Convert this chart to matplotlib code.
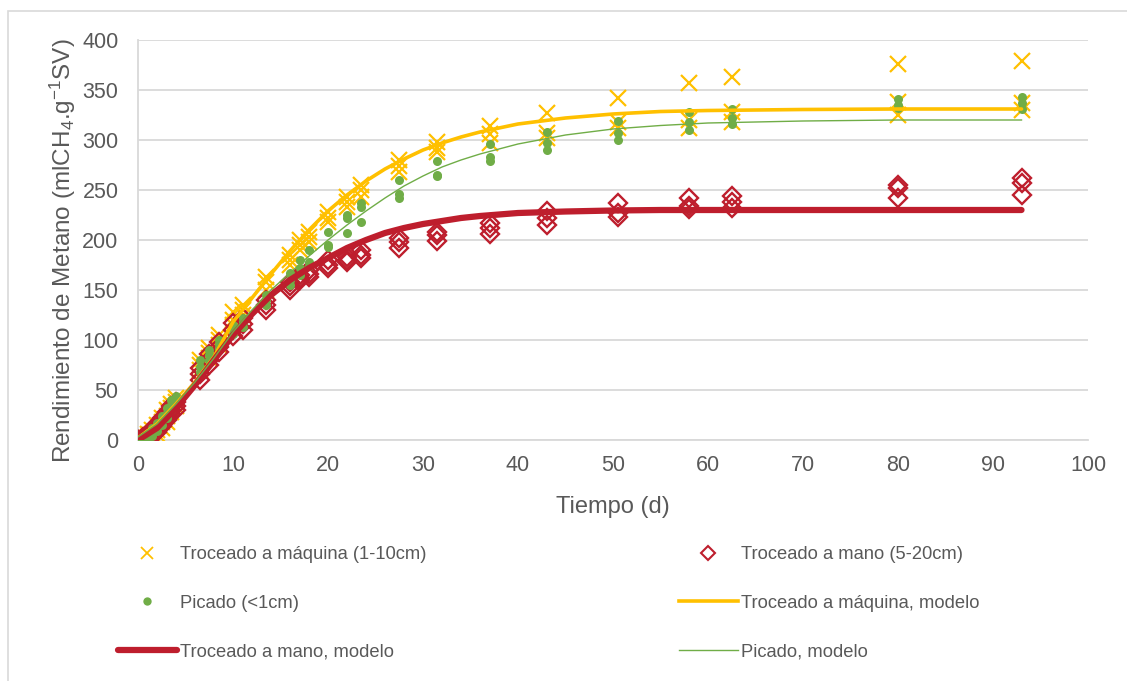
import matplotlib
matplotlib.use("Agg")
import matplotlib.pyplot as plt
from matplotlib.lines import Line2D
from matplotlib.patches import Rectangle

plt.rcParams['font.family'] = ['Liberation Sans', 'DejaVu Sans']
plt.rcParams['mathtext.fontset'] = 'custom'
plt.rcParams['mathtext.rm'] = 'Liberation Sans'
plt.rcParams['mathtext.it'] = 'Liberation Sans'

# ---- data ----
dias = [0, 0.5, 1, 1.5, 2, 2.5, 3, 3.5, 4, 6.5, 7.5, 8.5, 10, 11, 13.5, 16, 17, 18,
        20, 22, 23.5, 27.5, 31.5, 37, 43, 50.5, 58, 62.5, 80, 93]

maquina_r1 = [0, 3, 6, 10, 15, 22, 30, 36, 42, 80, 92, 105, 128, 135, 163, 185, 200, 208,
              228, 243, 255, 280, 298, 314, 327, 342, 357, 363, 376, 379]
maquina_r2 = [0, 1, 3, 6, 10, 18, 24, 32, 38, 75, 87, 100, 120, 130, 158, 180, 195, 203,
              222, 238, 250, 274, 292, 306, 307, 318, 320, 328, 338, 337]
maquina_r3 = [0, 0, 1, 3, 6, 12, 18, 28, 34, 70, 82, 95, 115, 125, 150, 175, 190, 198,
              218, 233, 243, 268, 288, 297, 302, 312, 312, 318, 325, 330]

mano_r1 = [0, 3, 6, 11, 16, 22, 28, 34, 38, 72, 86, 98, 117, 122, 140, 158, 165, 170,
           180, 183, 190, 202, 208, 217, 229, 237, 242, 244, 255, 262]
mano_r2 = [0, 1, 3, 8, 12, 18, 24, 30, 34, 66, 80, 93, 110, 116, 135, 154, 162, 166,
           175, 180, 185, 198, 205, 212, 222, 227, 234, 238, 252, 257]
mano_r3 = [0, 0, 1, 4, 8, 14, 20, 26, 30, 60, 75, 88, 104, 110, 130, 150, 160, 163,
           172, 178, 182, 192, 199, 206, 215, 223, 231, 232, 242, 245]

picado_r1 = [0, 3, 7, 12, 17, 24, 32, 40, 44, 80, 90, 100, 115, 122, 145, 167, 180, 190,
             208, 225, 237, 260, 279, 296, 308, 319, 328, 331, 341, 343]
picado_r2 = [0, 2, 4, 8, 13, 20, 27, 35, 40, 73, 85, 96, 110, 118, 140, 160, 172, 178,
             195, 222, 233, 246, 265, 283, 297, 307, 318, 322, 335, 337]
picado_r3 = [0, 1, 2, 4, 9, 15, 22, 30, 36, 68, 80, 92, 106, 113, 135, 155, 165, 174,
             193, 207, 218, 242, 264, 279, 290, 300, 310, 316, 332, 331]

dias_modelo = [0, 2, 4, 6, 8, 10, 12, 14, 16, 18, 20, 22, 24, 26, 28, 30, 32, 34, 36, 40,
               45, 50, 55, 60, 70, 80, 93]
modelo_maquina = [2, 16, 36, 58, 83, 118, 142, 166, 189, 210, 229, 245, 259, 271, 281,
                  290, 297, 303, 308, 316, 322, 326, 328.5, 329.5, 330.5, 331, 331]
modelo_mano = [0, 12, 32, 55, 80, 105, 126, 145, 160, 172, 182, 192, 200, 207, 212,
               216, 219, 222, 224, 227, 228.5, 229.5, 230, 230, 230, 230, 230]
modelo_picado = [3, 16, 36, 58, 82, 108, 130, 150, 167, 184, 200, 215, 229, 242, 254,
                 264, 273, 280, 286, 296, 305, 311, 314.5, 317, 319, 320, 320]

# ---- style ----
c_maq = '#FFC000'
c_mano = '#BE1E2D'
c_pic = '#70AD47'
c_txt = '#595959'
c_grid = '#D9D9D9'

fig = plt.figure(figsize=(11.27, 6.81), dpi=100)
ax = fig.add_axes([138/1127, 1-440/681, (1088-138)/1127, 400/681])

for r in (maquina_r1, maquina_r2, maquina_r3):
    ax.plot(dias, r, linestyle='none', marker='x', ms=11, mew=1.6, color=c_maq, zorder=3)
for r in (mano_r1, mano_r2, mano_r3):
    ax.plot(dias, r, linestyle='none', marker='D', ms=9, mew=1.7, mfc='none', mec=c_mano, zorder=3)
for r in (picado_r1, picado_r2, picado_r3):
    ax.plot(dias, r, linestyle='none', marker='o', ms=6.5, mew=0, color=c_pic, zorder=3)

ax.plot(dias_modelo, modelo_maquina, color=c_maq, lw=2.6, zorder=4, solid_capstyle='round')
ax.plot(dias_modelo, modelo_mano, color=c_mano, lw=4.5, zorder=5, solid_capstyle='round')
ax.plot(dias_modelo, modelo_picado, color=c_pic, lw=1.0, zorder=6)

ax.set_xlim(0, 100)
ax.set_ylim(0, 400)
ax.set_xticks(range(0, 101, 10))
ax.set_yticks(range(0, 401, 50))
ax.yaxis.grid(True, color=c_grid, lw=1.3)
ax.set_axisbelow(True)
for s in ('top', 'right'):
    ax.spines[s].set_visible(False)
for s in ('left', 'bottom'):
    ax.spines[s].set_color(c_grid)
    ax.spines[s].set_linewidth(1.3)
ax.tick_params(axis='y', length=0, labelsize=15.5, labelcolor=c_txt, pad=14)
ax.tick_params(axis='x', length=0, labelsize=15.5, labelcolor=c_txt, pad=11)
ax.set_xlabel('Tiempo (d)', fontsize=17, color=c_txt, labelpad=14)
ax.set_ylabel(r'Rendimiento de Metano (mlCH$_\mathregular{4}$.g$^\mathregular{-1}$SV)',
              fontsize=17.5, color=c_txt)
ax.yaxis.set_label_coords(-60/950, (440-251)/400)

h_col1 = [
    Line2D([], [], linestyle='none', marker='x', ms=8, mew=1.3, color=c_maq),
    Line2D([], [], linestyle='none', marker='o', ms=6, mew=0, color=c_pic),
    Line2D([], [], color=c_mano, lw=4.5, solid_capstyle='round'),
]
l_col1 = ['Troceado a máquina (1-10cm)', 'Picado (<1cm)', 'Troceado a mano, modelo']
h_col2 = [
    Line2D([], [], linestyle='none', marker='D', ms=7, mew=1.5, mfc='none', mec=c_mano),
    Line2D([], [], color=c_maq, lw=2.6),
    Line2D([], [], color=c_pic, lw=1.0),
]
l_col2 = ['Troceado a mano (5-20cm)', 'Troceado a máquina, modelo', 'Picado, modelo']

leg_kw = dict(loc='upper left', frameon=False, prop={'size': 13.2},
              handlelength=3.2, handletextpad=0.2, labelspacing=1.72,
              borderaxespad=0, borderpad=0)
leg1 = fig.legend(h_col1, l_col1, bbox_to_anchor=(118/1127, 1-546/681), **leg_kw)
leg2 = fig.legend(h_col2, l_col2, bbox_to_anchor=(679/1127, 1-546/681), **leg_kw)
for lg in (leg1, leg2):
    for t in lg.get_texts():
        t.set_color(c_txt)

fig.patches.append(Rectangle((8/1127, -0.01), 1.0, 1-11/681+0.01, transform=fig.transFigure,
                             fill=False, edgecolor='#D9D9D9', lw=1.2))

fig.savefig('out.png', dpi=100)
